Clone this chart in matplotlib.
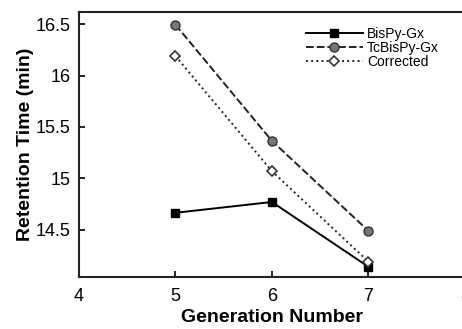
import matplotlib.pyplot as plt

plt.rcParams['font.family'] = ['Liberation Sans', 'DejaVu Sans']

generation = [5, 6, 7]
bispy = [14.665, 14.77, 14.14]
tcbispy = [16.495, 15.365, 14.49]
corrected = [16.19, 15.07, 14.19]

fig = plt.figure(figsize=(4.62, 3.29), dpi=100)
ax = fig.add_axes([0.171, 0.158, 0.835, 0.806])

ax.plot(generation, bispy, '-', color='black', lw=1.4, marker='s', ms=6,
        mfc='black', mec='black', label='BisPy-Gx')
ax.plot(generation, tcbispy, '--', color='#222222', lw=1.4, marker='o', ms=6.5,
        mfc='#777777', mec='#333333', label='TcBisPy-Gx', dashes=(4, 1.5))
ax.plot(generation, corrected, ':', color='#222222', lw=1.4, marker='D', ms=5,
        mfc='white', mec='#333333', mew=1.2, label='Corrected')

ax.set_xlim(4, 8)
ax.set_ylim(14.04, 16.62)
ax.set_xticks([4, 5, 6, 7, 8])
ax.set_yticks([14.5, 15, 15.5, 16, 16.5])
ax.set_yticklabels(['14.5', '15', '15.5', '16', '16.5'])
ax.tick_params(direction='in', labelsize=13, length=4, width=1.2, pad=6)
ax.tick_params(axis='x', pad=8)
for s in ax.spines.values():
    s.set_linewidth(1.5)
    s.set_color('#222222')

ax.set_xlabel('Generation Number', fontsize=14, fontweight='bold', labelpad=3)
ax.set_ylabel('Retention Time (min)', fontsize=14, fontweight='bold', labelpad=1)

ax.legend(loc='upper right', bbox_to_anchor=(0.965, 0.99), frameon=False,
          fontsize=10, handlelength=4.1, handletextpad=0.3, labelspacing=0.0)

fig.savefig('out.png', dpi=100)
